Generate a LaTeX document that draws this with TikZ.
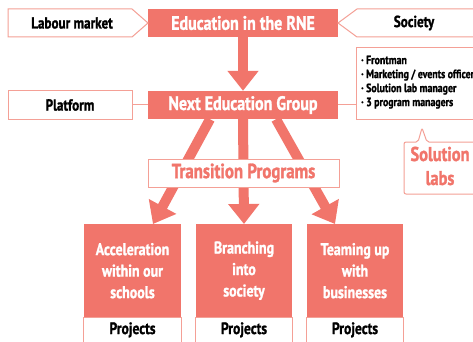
\documentclass[tikz,border=0pt]{standalone}
\usepackage{fontspec}
\setmainfont{PT Sans}[FakeStretch=0.82,BoldFeatures={FakeBold=1.3}]
\usetikzlibrary{arrows.meta,calc}
\definecolor{salmon}{RGB}{241,117,107}
\definecolor{pinkline}{RGB}{244,160,150}
\begin{document}
\begin{tikzpicture}[x=1pt,y=-1pt,
  redbox/.style={fill=salmon, text=white, inner sep=0pt, font=\bfseries\fontsize{19.5}{22}\selectfont},
  whitebox/.style={fill=white, draw=pinkline, line width=1pt, inner sep=0pt},
  blacklabel/.style={text=black, font=\bfseries\fontsize{16}{18}\selectfont},
  pinklabel/.style={text=salmon, font=\bfseries\fontsize{20}{24}\selectfont},
  thinline/.style={draw=pinkline, line width=1pt},
  bigarrow/.style={draw=salmon, line width=10pt, -{Triangle[width=30pt,length=20pt]}},
  progbox/.style={fill=salmon, text=white, inner sep=0pt, minimum height=93pt, align=center,
    font=\bfseries\fontsize{17}{21.5}\selectfont},
]
\useasboundingbox (0,0) rectangle (473,342);
\clip (0,0) rectangle (473,342);
\fill[white] (0,0) rectangle (473,342);

% top row
\node[redbox, minimum width=190pt, minimum height=28pt] (edu) at (243,23) {Education in the RNE};
\draw[whitebox] (8,9) -- (132,9) -- (148,23) -- (132,37) -- (8,37) -- cycle;
\node[blacklabel] (labour) at (72,23) {Labour market};
\draw[whitebox] (490,9) -- (357,9) -- (338,23) -- (357,37) -- (490,37);
\node[blacklabel] (society) at (414,23) {Society};

% second row
\node[redbox, minimum width=190pt, minimum height=28pt] (next) at (243,105) {Next Education Group};
\node[whitebox, minimum width=124pt, minimum height=28pt, blacklabel] (platform) at (70,105) {Platform};
\draw[thinline] (platform.east) -- (next.west);
\node[whitebox, anchor=north west, minimum width=130pt, minimum height=72pt] (staff) at (356,47) {};
\draw[thinline] (next.east) -- (next.east -| staff.west);
\node[anchor=north west, align=left, text=black, inner sep=0pt,
  font=\bfseries\fontsize{12}{14}\selectfont] (stafftext) at (361,55.5)
  {· Frontman\\· Marketing / events officer\\· Solution lab manager\\· 3 program managers};

\draw[bigarrow] (edu.south) -- (next.north);

% solution labs
\draw[whitebox, rounded corners=2pt] (490,142) -- (427,142) -- (422,128) -- (418,142) -- (404,142) -- (404,194) -- (490,194);
\node[pinklabel, align=center, inner sep=0pt] (labs) at (440,166) {Solution\\labs};

% bottom programs
\node[progbox, minimum width=97pt, anchor=north] (acc) at (132.5,224) {Acceleration\\within our\\schools};
\node[progbox, minimum width=96pt, anchor=north] (branch) at (244,224) {Branching\\into\\society};
\node[progbox, minimum width=96pt, anchor=north] (team) at (355,224) {Teaming up\\with\\businesses};
\foreach \b/\n in {acc/p1, branch/p2, team/p3}{
  \draw[whitebox] (\b.south west) rectangle ($(\b.south east)+(0,40)$);
  \node[blacklabel, font=\bfseries\fontsize{16.5}{18}\selectfont] (\n) at ($(\b.south)+(0,12.5)$) {Projects};
}

% arrows
\draw[bigarrow] ($(next.south)+(-33,0)$) -- ($(acc.north)+(20.5,0)$);
\draw[bigarrow] (next.south) -- (branch.north);
\draw[bigarrow] ($(next.south)+(33,0)$) -- ($(team.north)+(-20,0)$);

\node[whitebox, minimum width=191pt, minimum height=28pt, pinklabel, font=\bfseries\fontsize{20.5}{22}\selectfont] (trans) at (243.5,173) {Transition Programs};
\end{tikzpicture}
\end{document}
